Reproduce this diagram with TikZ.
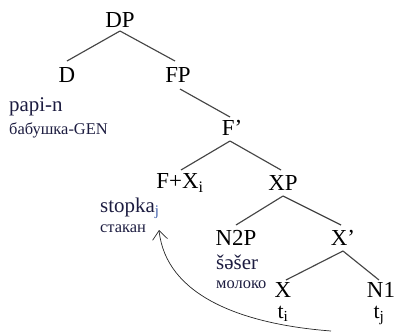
\documentclass[tikz,border=0pt]{standalone}
\usepackage{fontspec}
\setmainfont{Liberation Serif}
\usetikzlibrary{arrows.meta}
\definecolor{navy}{HTML}{1C1C40}
\definecolor{subblue}{HTML}{3A5AA8}
\definecolor{branch}{HTML}{454545}
\tikzset{
  cat/.style={inner sep=0pt, font=\fontsize{23}{25}\selectfont, text=black},
  leaf/.style={cat, text depth=0pt},
  trace/.style={inner sep=0pt, font=\fontsize{22}{24}\selectfont, text=black, text height=1.3ex, text depth=0.4ex},
  word/.style={inner sep=0pt, anchor=west, font=\fontsize{21}{23}\selectfont, text=navy},
  gloss/.style={inner sep=0pt, anchor=west, font=\fontsize{16.5}{19}\selectfont, text=navy},
  branchline/.style={draw=branch, line width=1.15bp},
  movearrow/.style={draw=black!85, line width=0.7bp, -{Straight Barb[length=9bp,width=15bp]}}
}
\begin{document}
\begin{tikzpicture}[x=1bp,y=-1bp]
\useasboundingbox (0,0) rectangle (399,335);
% categories
\node[cat] (DP)  at (120,20)  {DP};
\node[cat] (D)   at (67,75)   {D};
\node[cat] (FP)  at (178,75)  {FP};
\node[cat] (Fb)  at (232,128) {F’};
\node[cat] (FX)  at (180,183) {F+X\textsubscript{i}};
\node[cat] (XP)  at (283,183) {XP};
\node[cat] (N2P) at (236,238) {N2P};
\node[cat] (Xb)  at (343,238) {X’};
\node[leaf] (X)   at (283,290) {X};
\node[leaf] (N1)  at (381,290) {N1};
\node[trace] (ti)  at (283,316) {t\textsubscript{i}};
\node[trace] (tj)  at (379,316) {t\textsubscript{j}};
% lexical material and glosses
\node[word]  (papin)  at (9,107)  {papi-n};
\node[gloss] (babg)   at (9,130)  {бабушка-GEN};
\node[word]  (stopka) at (100,208) {stopka\textsubscript{\textcolor{subblue}{j}}};
\node[gloss] (stakan) at (100,229) {стакан};
\node[word]  (shesher) at (216,262) {šəšer};
\node[gloss] (moloko) at (216,285) {молоко};
% branches
\draw[branchline] (120,31) -- (67,61);
\draw[branchline] (120,31) -- (175,61);
\draw[branchline] (180,89) -- (230,117);
\draw[branchline] (230,141) -- (181,170);
\draw[branchline] (230,141) -- (281,170);
\draw[branchline] (283,196) -- (236,225);
\draw[branchline] (283,196) -- (341,225);
\draw[branchline] (343,251) -- (286,280);
\draw[branchline] (343,251) -- (379,280);
% movement of N1 to the specifier of F
\coordinate (tail) at (331,331);
\coordinate (head) at (159,230);
\draw[movearrow] (tail) .. controls (240,324) and (166,295) .. (head);
\end{tikzpicture}
\end{document}
